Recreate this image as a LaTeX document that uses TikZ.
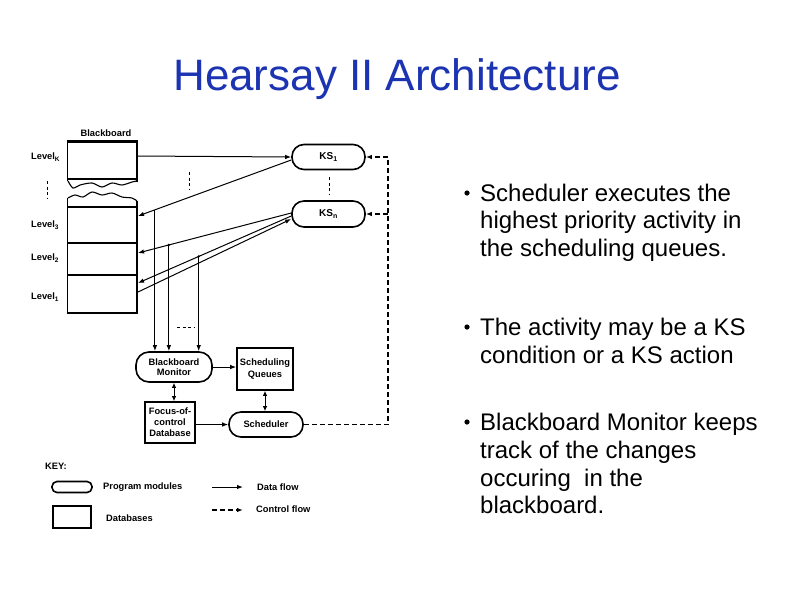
\documentclass[tikz,border=0pt]{standalone}
\usepackage{fontspec}
\setmainfont{Liberation Sans}
\usetikzlibrary{arrows.meta,calc}
\definecolor{titleblue}{RGB}{28,52,178}
\begin{document}
\begin{tikzpicture}[x=1pt,y=-1pt,
  flow/.style={line width=1pt,-{Latex[length=6pt,width=4.5pt]}},
  dflow/.style={line width=1pt,{Latex[length=5pt,width=4.5pt]}-{Latex[length=5pt,width=4.5pt]}},
  ctrl/.style={line width=1.2pt,dash pattern=on 5pt off 3pt},
  ctrlarrow/.style={ctrl,-{Latex[length=6pt,width=4.5pt]}},
  dfont/.style={font=\bfseries\fontsize{9.3}{12.5}\selectfont},
  module/.style={draw,line width=1.6pt,align=center,dfont,inner sep=0pt},
  dbase/.style={draw,line width=1.6pt,align=center,dfont,inner sep=0pt},
  lbl/.style={dfont,inner sep=0pt},
  bul/.style={anchor=base west,inner sep=0pt,font=\fontsize{24}{28}\selectfont},
  dots/.style={line width=1pt,dash pattern=on 3pt off 2.5pt}
]
\useasboundingbox (0,0) rectangle (794,595);

% title
\node[anchor=base,font=\fontsize{44}{50}\selectfont,text=titleblue,inner sep=0pt] (title) at (397,90) {Hearsay II Architecture};

% bullets
\fill (467,193) circle (2.6);
\node[bul] (b1a) at (480,201) {Scheduler executes the};
\node[bul] (b1b) at (480,228.5) {highest priority activity in};
\node[bul] (b1c) at (480,256) {the scheduling queues.};
\fill (467,327) circle (2.6);
\node[bul] (b2a) at (480,335) {The activity may be a KS};
\node[bul] (b2b) at (480,363) {condition or a KS action};
\fill (467,422) circle (2.6);
\node[bul] (b3a) at (480,430) {Blackboard Monitor keeps};
\node[bul] (b3b) at (480,458) {track of the changes};
\node[bul] (b3c) at (480,486) {occuring\ \ in the};
\node[bul] (b3d) at (480,513) {blackboard.};

% blackboard
\node[lbl] (bbl) at (106,133) {Blackboard};
\node[lbl,anchor=west] (lk) at (31,157) {Level\textsubscript{K}};
\node[lbl,anchor=west] (l3) at (31,225) {Level\textsubscript{3}};
\node[lbl,anchor=west] (l2) at (31,258) {Level\textsubscript{2}};
\node[lbl,anchor=west] (l1) at (31,297) {Level\textsubscript{1}};
\draw[dots] (47,181) -- (47,199);

\draw[line width=3pt] (66.5,141) -- (137.5,141);
\draw[line width=1.6pt] (67.5,141) -- (67.5,181);
\draw[line width=1.8pt] (137,141) -- (137,182);
\draw[line width=2.6pt] (67,179) -- (137.5,179);
\draw[line width=1.1pt] plot[smooth] coordinates {(68,181) (73,188) (80,185) (92,183) (102,187) (112,183) (122,185) (132,182) (137,181)};
\draw[line width=1.1pt] plot[smooth] coordinates {(68,198) (75,195) (83,197) (92,192) (102,195) (112,193) (122,197) (132,198) (137,201)};
\draw[line width=1.6pt] (67.5,198) -- (67.5,313) -- (137,313);
\draw[line width=1.8pt] (137,201) -- (137,313.8);
\draw[line width=1.1pt] (68,207) -- (137,207);
\draw[line width=1.1pt] (68,243) -- (137,243);
\draw[line width=1.1pt] (68,275) -- (137,275);

% knowledge sources
\node[module,minimum width=73pt,minimum height=25pt,rounded corners=12pt,font=\bfseries\fontsize{10}{12}\selectfont] (ks1) at (328.5,157) {KS\textsubscript{1}};
\node[module,minimum width=73pt,minimum height=26pt,rounded corners=12pt,font=\bfseries\fontsize{10}{12}\selectfont] (ksn) at (328.5,214) {KS\textsubscript{n}};
\draw[dots] (329,177) -- (329,195);
\draw[dots] (189,172) -- (189,190);

% modules and databases
\node[module,minimum width=76pt,minimum height=30pt,rounded corners=13pt] (mon) at (174,367) {Blackboard\\[-2pt]Monitor};
\node[dbase,minimum width=56pt,minimum height=42pt] (que) at (265,369) {Scheduling\\[-1pt]Queues};
\node[dbase,minimum width=50pt,minimum height=41pt] (foc) at (170,422.5) {Focus-of-\\[-1.5pt]control\\[-1.5pt]Database};
\node[module,minimum width=74pt,minimum height=25pt,rounded corners=12pt] (sch) at (266,424.5) {Scheduler};

% blackboard <-> KS
\coordinate (bbK) at (137.5,156);
\coordinate (bb3) at (138,216);
\coordinate (bb2) at (138,253);
\coordinate (bb1a) at (138,283);
\coordinate (bb1b) at (138,292);
\coordinate (k1a) at ($(ks1.west)+(0,3)$);
\coordinate (kna) at ($(ksn.west)+(0,-1)$);
\coordinate (knb) at ($(ksn.west)+(0,2)$);
\coordinate (knc) at ($(ksn.west)+(0,5)$);
\draw[flow] (bbK) -- (ks1.west);
\draw[flow] (k1a) -- (bb3);
\draw[flow] (kna) -- (bb2);
\draw[flow] (knb) -- (bb1a);
\draw[flow] (bb1b) -- (knc);

% taps to the monitor
\coordinate (t1) at ($(k1a)!0.8896!(bb3)$);
\coordinate (t2) at ($(kna)!0.7987!(bb2)$);
\coordinate (t3) at ($(knb)!0.6039!(bb1a)$);
\draw[flow] (t1) -- (t1 |- mon.north);
\draw[flow] (t2) -- (t2 |- mon.north);
\draw[flow] (t3) -- (t3 |- mon.north);
\fill (t2) circle (1.3);
\fill (t3) circle (1.3);
\draw[dots] (177,327) -- (195,327);

% data flow among modules
\draw[flow] (mon.east) -- (mon.east -| que.west);
\draw[dflow] (mon.south) -- (mon.south |- foc.north);
\draw[dflow] (que.south) -- (que.south |- sch.north);
\draw[flow] (foc.east |- sch.west) -- (sch.west);

% control flow
\coordinate (c0) at (388,424.5);
\coordinate (c1) at (388,157);
\coordinate (c2) at (388,214);
\draw[ctrl] (sch.east) -- (c0) -- (c1);
\draw[ctrlarrow] (c1) -- (ks1.east);
\draw[ctrlarrow] (c2) -- (ksn.east);

% key
\node[lbl,anchor=west] (key) at (45,466) {KEY:};
\node[draw,line width=1.6pt,rounded corners=5pt,minimum width=40pt,minimum height=11pt,inner sep=0pt] (kmod) at (72,487) {};
\node[lbl,anchor=west] (kmodt) at (103,487) {Program modules};
\node[draw,line width=1.6pt,minimum width=38pt,minimum height=22pt,inner sep=0pt] (kdb) at (72,517) {};
\node[lbl,anchor=west] (kdbt) at (106,518) {Databases};
\node[lbl,anchor=west] (kdf) at (257,487) {Data flow};
\node[lbl,anchor=west] (kcf) at (256,509) {Control flow};
\coordinate (kf0) at (212,487);
\coordinate (kc0) at (212,510);
\draw[flow] (kf0) -- ([xshift=-14pt]kdf.west);
\draw[ctrlarrow] (kc0) -- ([xshift=-13pt]kcf.west |- kc0);
\end{tikzpicture}
\end{document}
